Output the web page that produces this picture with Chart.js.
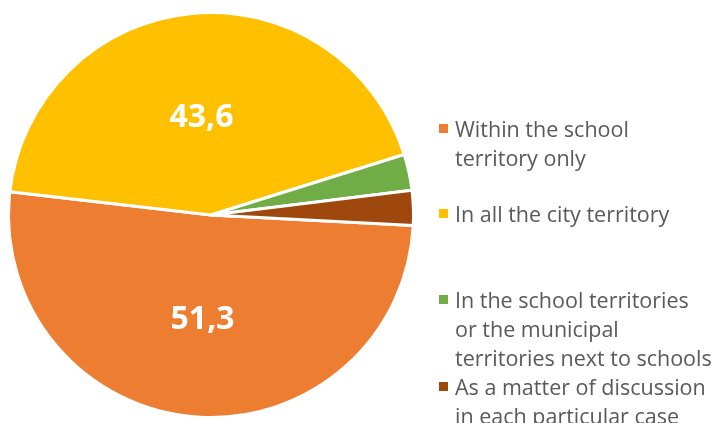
<!DOCTYPE html>
<html>
<head>
<meta charset="utf-8">
<script src="https://cdn.jsdelivr.net/npm/chart.js@4"></script>
<style>
  html, body { margin: 0; padding: 0; background: #fff; overflow: hidden; }
  #wrap { position: relative; width: 712px; height: 423px; }
  #chart-box { position: absolute; left: 0; top: 0; width: 422px; height: 430px; }
  #legend { position: absolute; left: 0; top: 0; width: 712px; height: 423px; pointer-events: none; }
  .item { position: absolute; left: 439px; font-family: 'Open Sans', sans-serif; font-size: 21.5px; line-height: 29px; color: #595959; }
  .item .box { position: absolute; left: 0; top: 10px; width: 9px; height: 9px; }
  .item .txt { margin-left: 16px; white-space: nowrap; }
</style>
</head>
<body>
<div id="wrap">
  <div id="chart-box"><canvas id="pie"></canvas></div>
  <div id="legend"></div>
</div>
<script>
const categories = [
  ['Within the school', 'territory only'],
  ['In all the city territory'],
  ['In the school territories', 'or the municipal', 'territories next to schools'],
  ['As a matter of discussion', 'in each particular case']
];
const values = [51.3, 43.6, 2.9, 2.8];
const colors = ['#ED7D31', '#FFC000', '#70AD47', '#9E480E'];

// first-line centre of each legend entry, px from top
const legendTops = [128, 213, 299, 386];

const fmt = (v) => v.toFixed(1).replace('.', ',');

const valueLabels = {
  id: 'valueLabels',
  afterDatasetsDraw(chart) {
    const ctx = chart.ctx;
    const meta = chart.getDatasetMeta(0);
    ctx.save();
    ctx.fillStyle = '#ffffff';
    ctx.font = 'bold 32px "Open Sans", sans-serif';
    ctx.textAlign = 'center';
    ctx.textBaseline = 'middle';
    meta.data.forEach((arc, i) => {
      if (values[i] < 10) return;
      const p = arc.getCenterPoint();
      ctx.fillText(fmt(values[i]), p.x, p.y + 4);
    });
    ctx.restore();
  }
};

new Chart(document.getElementById('pie'), {
  type: 'pie',
  data: {
    labels: categories,
    datasets: [{
      data: values,
      backgroundColor: colors,
      borderColor: '#ffffff',
      borderWidth: 3
    }]
  },
  options: {
    responsive: true,
    maintainAspectRatio: false,
    animation: false,
    rotation: 93,
    layout: { padding: { left: 7, right: 7, top: 11, bottom: 11 } },
    plugins: {
      legend: { display: false },
      tooltip: { enabled: false }
    }
  },
  plugins: [valueLabels]
});

const legendEl = document.getElementById('legend');
categories.forEach((lines, i) => {
  const item = document.createElement('div');
  item.className = 'item';
  item.style.top = (legendTops[i] - 14.5) + 'px';
  item.innerHTML = `<span class="box" style="background:${colors[i]}"></span>` +
    `<div class="txt">${lines.join('<br>')}</div>`;
  legendEl.appendChild(item);
});
</script>
</body>
</html>
